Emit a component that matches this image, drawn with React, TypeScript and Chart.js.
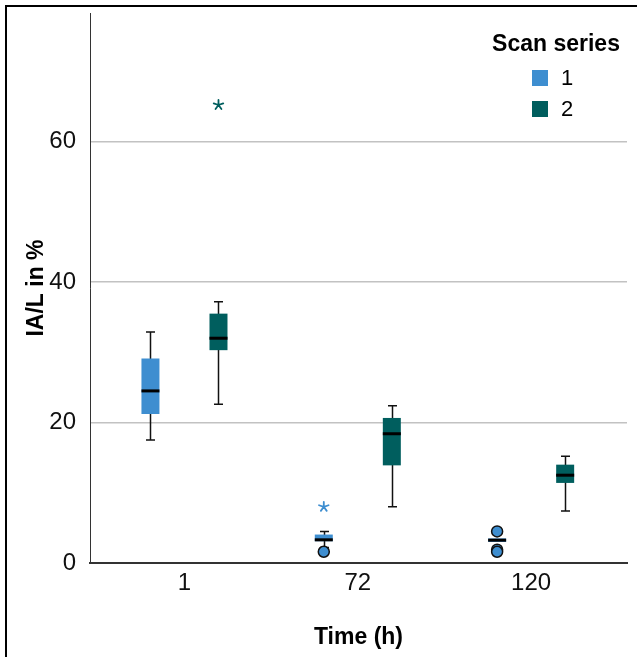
import React, { useEffect, useRef } from 'react';
import { Chart, registerables } from 'chart.js';

Chart.register(...registerables);

const TIME_LABELS = ['1', '72', '120'];
const X_POS = [0, 1, 2];
const SERIES_NAMES = ['1', '2'];
const SERIES_COLORS = ['#3E8ED0', '#005E5E'];
const LEGEND_TITLE = 'Scan series';
const X_TITLE = 'Time (h)';
const Y_TITLE = 'IA/L in %';

// Scan series 1
const S1_Q1 = [21.2, 3.1, 3.0];
const S1_Q3 = [29.1, 4.05, 3.5];
const S1_MED = [24.5, 3.3, 3.25];
const S1_LO: (number | null)[] = [17.5, 2.2, null];
const S1_HI: (number | null)[] = [32.9, 4.5, null];
const S1_CIRCLES = [[1, 1.6], [2, 4.5], [2, 1.9], [2, 1.6]];
const S1_STARS = [[1, 8.0]];

// Scan series 2
const S2_Q1 = [30.3, 13.9, 11.4];
const S2_Q3 = [35.5, 20.65, 14.0];
const S2_MED = [32.0, 18.4, 12.5];
const S2_LO: (number | null)[] = [22.6, 8.0, 7.4];
const S2_HI: (number | null)[] = [37.2, 22.4, 15.2];
const S2_CIRCLES: number[][] = [];
const S2_STARS = [[0, 65.2]];

const Y_TICKS = [0, 20, 40, 60];
const Y_MAX = 78.3;

const FONT = "'Liberation Sans', Arial, sans-serif";

const SERIES = [
  { q1: S1_Q1, q3: S1_Q3, med: S1_MED, lo: S1_LO, hi: S1_HI, circles: S1_CIRCLES, stars: S1_STARS },
  { q1: S2_Q1, q3: S2_Q3, med: S2_MED, lo: S2_LO, hi: S2_HI, circles: S2_CIRCLES, stars: S2_STARS },
];

const boxParts = {
  id: 'boxParts',
  beforeDatasetsDraw(chart: any) {
    const ctx = chart.ctx;
    const y = chart.scales.y;
    ctx.save();
    ctx.strokeStyle = '#111';
    ctx.lineWidth = 1.5;
    SERIES.forEach((s, d) => {
      const meta = chart.getDatasetMeta(d);
      meta.data.forEach((el: any, i: number) => {
        const lo = s.lo[i];
        const hi = s.hi[i];
        if (lo == null || hi == null) return;
        const x = Math.round(el.x) + 0.5;
        const yl = y.getPixelForValue(lo);
        const yh = y.getPixelForValue(hi);
        ctx.beginPath();
        ctx.moveTo(x, yl);
        ctx.lineTo(x, yh);
        ctx.moveTo(x - 4.5, yl);
        ctx.lineTo(x + 4.5, yl);
        ctx.moveTo(x - 4.5, yh);
        ctx.lineTo(x + 4.5, yh);
        ctx.stroke();
      });
    });
    ctx.restore();
  },
  afterDatasetsDraw(chart: any) {
    const ctx = chart.ctx;
    const y = chart.scales.y;
    ctx.save();
    SERIES.forEach((s, d) => {
      const meta = chart.getDatasetMeta(d);
      meta.data.forEach((el: any, i: number) => {
        const ym = y.getPixelForValue(s.med[i]);
        ctx.fillStyle = '#000';
        ctx.fillRect(el.x - el.width / 2, ym - 1.5, el.width, 3);
      });
      const color = SERIES_COLORS[d];
      s.circles.forEach(([idx, v]) => {
        const el = meta.data[idx];
        const py = y.getPixelForValue(v);
        ctx.beginPath();
        ctx.arc(el.x, py, 5.5, 0, Math.PI * 2);
        ctx.fillStyle = color;
        ctx.fill();
        ctx.lineWidth = 1.5;
        ctx.strokeStyle = '#111';
        ctx.stroke();
      });
      s.stars.forEach(([idx, v]) => {
        const el = meta.data[idx];
        const py = y.getPixelForValue(v);
        ctx.strokeStyle = color;
        ctx.lineWidth = 1.8;
        ctx.lineCap = 'round';
        ctx.beginPath();
        for (let k = 0; k < 5; k++) {
          const a = -Math.PI / 2 + (k * 2 * Math.PI) / 5;
          ctx.moveTo(el.x, py);
          ctx.lineTo(el.x + 5 * Math.cos(a), py + 5 * Math.sin(a));
        }
        ctx.stroke();
      });
    });
    ctx.restore();
  },
  afterDraw(chart: any) {
    const ctx = chart.ctx;
    ctx.save();
    ctx.fillStyle = '#000';
    ctx.textBaseline = 'middle';
    ctx.textAlign = 'center';
    ctx.font = `bold 23px ${FONT}`;
    ctx.fillText(LEGEND_TITLE, 556, 45);
    ctx.font = `22px ${FONT}`;
    ctx.textAlign = 'left';
    SERIES_NAMES.forEach((n, i) => {
      const cy = 78 + i * 31;
      ctx.fillStyle = SERIES_COLORS[i];
      ctx.fillRect(532, cy - 8, 16, 16);
      ctx.fillStyle = '#000';
      ctx.fillText(n, 561, cy + 1);
    });
    ctx.restore();
  },
};

function ChartView() {
  const ref = useRef<HTMLCanvasElement>(null);
  useEffect(() => {
    if (!ref.current) return;
    const mk = (d: number) =>
      X_POS.map((x, i) => ({ x, y: [SERIES[d].q1[i], SERIES[d].q3[i]] }));
    const chart = new Chart(ref.current, {
      type: 'bar',
      data: {
        datasets: SERIES_NAMES.map((n, d) => ({
          label: n,
          data: mk(d) as any,
          backgroundColor: SERIES_COLORS[d],
          borderWidth: 0,
          categoryPercentage: 0.785,
          barPercentage: 1,
          maxBarThickness: 18,
        })),
      },
      options: {
        responsive: false,
        animation: false,
        devicePixelRatio: 1,
        layout: { padding: { top: 13, right: 10, left: 0, bottom: 0 } },
        plugins: { legend: { display: false }, tooltip: { enabled: false } },
        scales: {
          x: {
            type: 'linear',
            min: -0.545,
            max: 2.553,
            offset: false,
            grid: { display: false, drawTicks: false, offset: false },
            border: { display: true, color: '#333', width: 2 },
            afterBuildTicks: (s: any) => {
              s.ticks = X_POS.map((v) => ({ value: v }));
            },
            afterFit: (s: any) => {
              s.height = 94;
              s.paddingLeft = 0;
              s.paddingRight = 0;
            },
            ticks: {
              padding: 6,
              color: '#111',
              font: { family: FONT, size: 24 },
              callback: (v: any) => TIME_LABELS[Math.round(Number(v))] ?? '',
            },
            title: {
              display: true,
              text: X_TITLE,
              color: '#000',
              font: { family: FONT, size: 23, weight: 'bold' },
              padding: { top: 0, bottom: 6 },
            },
          },
          y: {
            min: 0,
            max: Y_MAX,
            afterBuildTicks: (s: any) => {
              s.ticks = Y_TICKS.map((v) => ({ value: v }));
            },
            afterFit: (s: any) => {
              s.width = 90;
              s.paddingTop = 0;
              s.paddingBottom = 0;
            },
            grid: {
              drawTicks: false,
              lineWidth: 1.5,
              color: (c: any) => (c.tick && c.tick.value === 0 ? 'rgba(0,0,0,0)' : '#c2c2c2'),
            },
            border: { display: true, color: '#333', width: 1 },
            ticks: {
              padding: 14,
              color: '#111',
              font: { family: FONT, size: 24 },
            },
            title: {
              display: true,
              text: Y_TITLE,
              color: '#000',
              font: { family: FONT, size: 23, weight: 'bold' },
              padding: { top: 23, bottom: 0 },
            },
          },
        },
      },
      plugins: [boxParts],
    });
    return () => chart.destroy();
  }, []);
  return (
    <canvas
      ref={ref}
      width={637}
      height={657}
      style={{ position: 'fixed', left: 0, top: 0, width: 637, height: 657 }}
    />
  );
}

export default function App() {
  return (
    <div>
      <div
        style={{
          position: 'fixed',
          left: 5,
          top: 5,
          width: 700,
          height: 700,
          border: '2px solid #000',
          boxSizing: 'border-box',
        }}
      />
      <ChartView />
    </div>
  );
}
